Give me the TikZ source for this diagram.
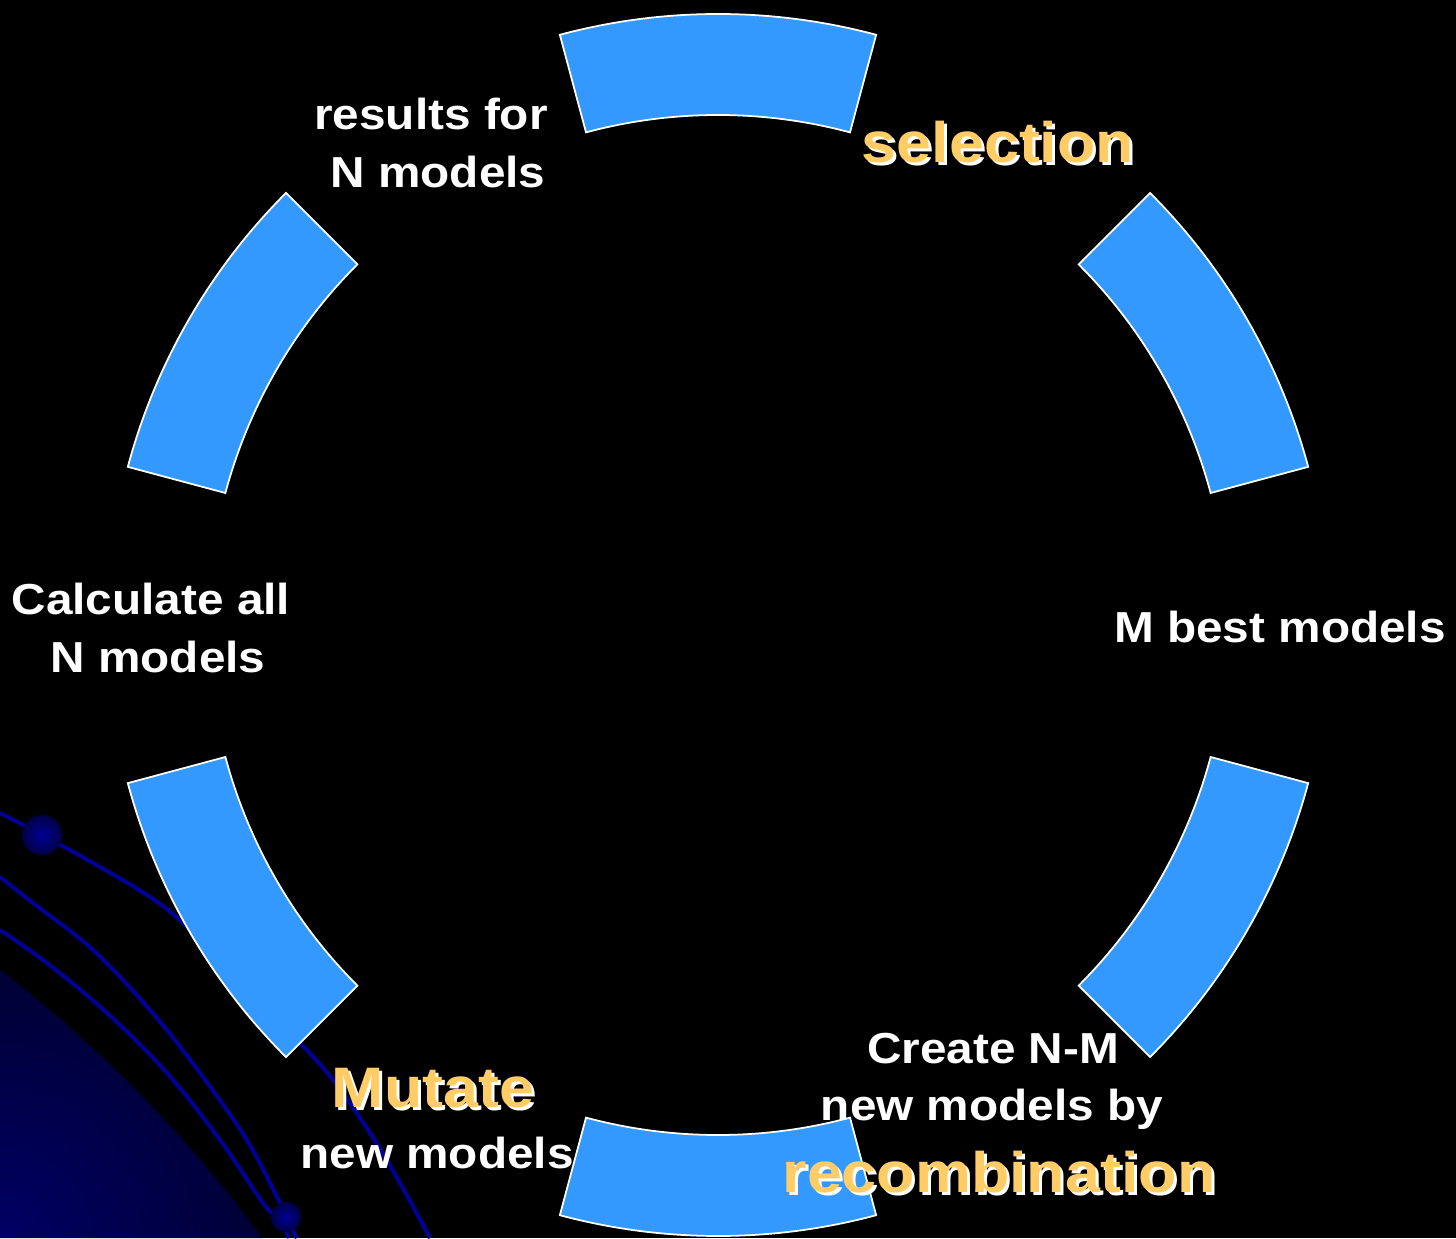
\documentclass[tikz,border=0pt]{standalone}
\usepackage{fontspec}
\newfontfamily\labfont{Liberation Sans}[FakeStretch=1.1]
\definecolor{segblue}{RGB}{51,153,255}
\definecolor{lblorange}{RGB}{255,204,102}
\definecolor{deco}{RGB}{0,0,150}
\definecolor{cornerblue}{RGB}{0,0,100}
\tikzset{
  seg/.style={fill=segblue,draw=white,line width=1pt},
  wlabel/.style={anchor=base,text=white,inner sep=0pt,font=\labfont\bfseries\fontsize{24.7}{26}\selectfont},
  olabel/.style={anchor=base,text=lblorange,inner sep=0pt,font=\labfont\bfseries\fontsize{32.5}{34}\selectfont},
  oshadow/.style={anchor=base,text=white,inner sep=0pt,font=\labfont\bfseries\fontsize{32.5}{34}\selectfont},
  decoline/.style={draw=deco,line width=2.3pt},
}
\newcommand{\segment}[2]{%
  \path[seg] ($(C)+(#1:611)$) arc[start angle=#1,end angle=#2,radius=611]
    -- ($(C)+(#2:510)$) arc[start angle=#2,end angle=#1,radius=510] -- cycle;}
\usetikzlibrary{calc}
\begin{document}
\begin{tikzpicture}[x=0.02cm,y=0.02cm]
\useasboundingbox (0,0) rectangle (1456,1238);
\fill[black] (0,0) rectangle (1456,1238);
% corner gradient
\begin{scope}
  \clip (0,268) .. controls (90,200) and (190,100) .. (262,0) -- (0,0) -- cycle;
  \shade[inner color=cornerblue,outer color=black] (0,0) circle (560);
\end{scope}
% decorative lines
\draw[decoline] plot[smooth,tension=0.6] coordinates {(0,425) (42,403) (93,375) (150,341) (187,311) (240,255) (300,195) (333,158) (370,105) (400,55) (430,0)};
\draw[decoline] plot[smooth,tension=0.6] coordinates {(0,361) (33,335) (93,288) (150,228) (197,169) (245,101) (277,41) (286,21) (297,0)};
\draw[decoline] plot[smooth,tension=0.6] coordinates {(0,308) (47,275) (107,225) (167,165) (220,98) (263,35) (281,16) (289,0)};
\shade[inner color=deco,outer color={rgb,255:red,0;green,0;blue,70}] (42,403) circle (20);
\shade[inner color=deco,outer color={rgb,255:red,0;green,0;blue,70}] (286,21) circle (15);
% ring segments
\coordinate (C) at (718,613);
\segment{75}{105}
\segment{15}{45}
\segment{-45}{-15}
\segment{255}{285}
\segment{195}{225}
\segment{135}{165}
% labels
\node[wlabel] (res1) at (431,1108) {results for};
\node[wlabel] (res2) at (438,1050) {N models};
\node[oshadow] (selS) at (1001,1072) {selection};
\node[olabel] (sel) at (998,1075) {selection};
\node[wlabel] (calc1) at (151,623) {Calculate all};
\node[wlabel] (calc2) at (158,565) {N models};
\node[wlabel] (mbest) at (1280,595) {M best models};
\node[wlabel] (cr1) at (993,175) {Create N-M};
\node[wlabel] (cr2) at (992,118) {new models by};
\node[oshadow] (recS) at (1002,43) {recombination};
\node[olabel] (rec) at (999,46) {recombination};
\node[oshadow] (mutS) at (436,128) {Mutate};
\node[olabel] (mut) at (433,131) {Mutate};
\node[wlabel] (mut2) at (437,70) {new models};
\end{tikzpicture}
\end{document}
